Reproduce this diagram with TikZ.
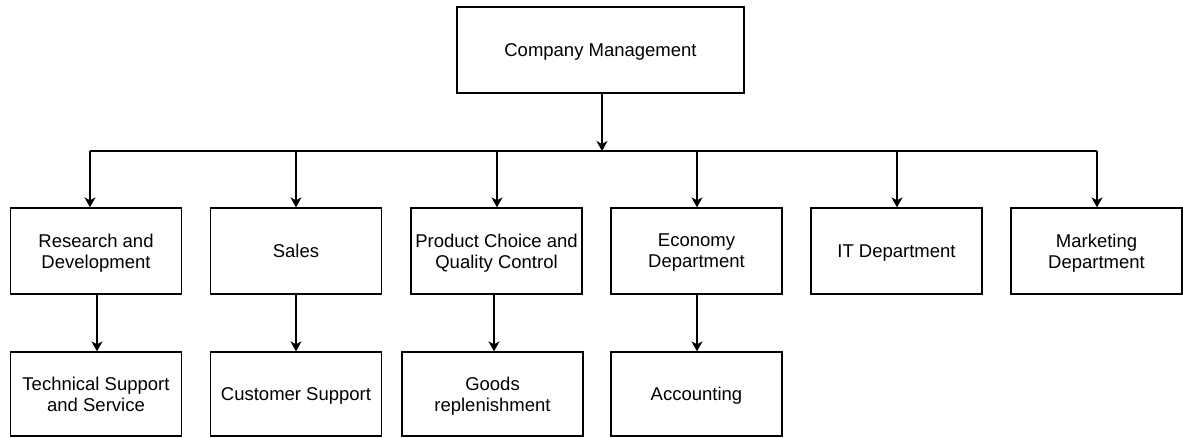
\documentclass[tikz,border=0pt]{standalone}
\usepackage{fontspec}
\setmainfont{Liberation Sans}
\usetikzlibrary{arrows.meta}
\begin{document}
\begin{tikzpicture}[x=1pt,y=-1pt,
  box/.style={draw=black,line width=1.3pt,rectangle,minimum width=171pt,minimum height=86pt,
    inner sep=2pt,align=center,text=black,text depth=0pt,font=\fontsize{18.5}{21}\selectfont},
  conn/.style={draw=black,line width=1.4pt},
  arr/.style={conn,-{Stealth[length=10pt,width=11pt,inset=3pt]}}]
\useasboundingbox (0,0) rectangle (1183,437);
\node[box,minimum width=287pt] (top) at (600.5,50) {Company Management};
\node[box] (rd) at (96,251) {Research and\\Development};
\node[box] (sa) at (296,251) {Sales};
\node[box] (pc) at (496.5,251) {Product Choice and\\Quality Control};
\node[box] (ec) at (696.5,251) {Economy\\Department};
\node[box] (it) at (896.5,251) {IT Department};
\node[box] (mk) at (1096.5,251) {Marketing\\Department};
\node[box,minimum height=84pt] (ts) at (96,394) {Technical Support\\and Service};
\node[box,minimum height=84pt] (cs) at (296,394) {Customer Support};
\node[box,minimum height=84pt,minimum width=181pt] (gr) at (492.5,394) {Goods\\replenishment};
\node[box,minimum height=84pt] (ac) at (696.5,394) {Accounting};
\coordinate (bl) at (90,151);
\coordinate (br) at (1097,151);
\draw[conn] (bl) -- (br);
\draw[arr] ([xshift=1.5pt]top.south) -- ([xshift=1.5pt]top.south |- bl);
\draw[arr] (bl) -- (bl |- rd.north);
\draw[arr] (sa.north |- bl) -- (sa.north);
\draw[arr] ([xshift=0.5pt]pc.north |- bl) -- ([xshift=0.5pt]pc.north);
\draw[arr] ([xshift=0.5pt]ec.north |- bl) -- ([xshift=0.5pt]ec.north);
\draw[arr] ([xshift=0.5pt]it.north |- bl) -- ([xshift=0.5pt]it.north);
\draw[arr] (br) -- (br |- mk.north);
\draw[arr] ([xshift=1pt]rd.south) -- ([xshift=1pt]rd.south |- ts.north);
\draw[arr] (sa.south) -- (cs.north);
\draw[arr] ([xshift=-2.5pt]pc.south) -- ([xshift=-2.5pt]pc.south |- gr.north);
\draw[arr] ([xshift=0.5pt]ec.south) -- ([xshift=0.5pt]ec.south |- ac.north);
\end{tikzpicture}
\end{document}
